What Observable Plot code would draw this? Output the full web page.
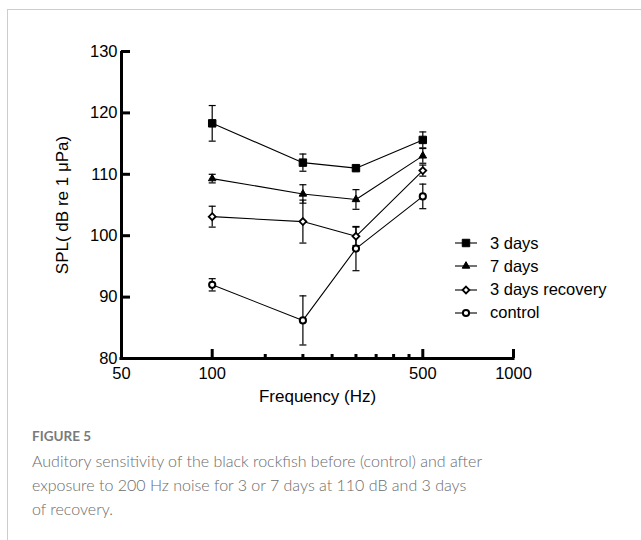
<!DOCTYPE html>
<html>
<head>
<meta charset="utf-8">
<script src="https://cdn.jsdelivr.net/npm/d3@7"></script>
<script src="https://cdn.jsdelivr.net/npm/@observablehq/plot@0.6"></script>
<style>
  html, body { margin: 0; padding: 0; background: #fff; }
  body { width: 641px; height: 540px; overflow: hidden; position: relative; font-family: "Liberation Sans", Arial, sans-serif; }
  #frame { position: absolute; left: 7px; top: 9px; width: 640px; height: 540px; border-left: 1px solid #cdcdcd; border-top: 1px solid #cdcdcd; }
  #chart { position: absolute; left: 0; top: 0; }
  #legend { position: absolute; left: 0; top: 0; }
  .lrow { position: absolute; left: 452px; height: 20px; display: flex; align-items: center; font-size: 16.5px; color: #000; white-space: nowrap; }
  .lrow svg { margin-right: 8px; }
  #figlabel { position: absolute; left: 32px; top: 428px; font-family: Lato, "Open Sans", sans-serif; font-weight: 700; font-size: 13.5px; color: #7a7a7a; }
  #caption { position: absolute; left: 32px; top: 449px; font-family: Lato, "Open Sans", sans-serif; font-weight: 300; font-size: 16px; line-height: 24px; color: #6b6b6b; }
</style>
</head>
<body>
<div id="frame"></div>
<div id="chart"></div>
<div id="legend"></div>
<div id="figlabel">FIGURE 5</div>
<div id="caption">Auditory sensitivity of the black rockfish before (control) and after<br>exposure to 200 Hz noise for 3 or 7 days at 110 dB and 3 days<br>of recovery.</div>
<script>
// ---- data ----
const frequencies = [100, 200, 300, 500];
const seriesNames = ["3 days", "7 days", "3 days recovery", "control"];
const days3Mean = [118.3, 111.9, 111.0, 115.6];
const days3Err  = [2.9, 1.4, 0.4, 1.3];
const days7Mean = [109.3, 106.8, 105.9, 113.0];
const days7Err  = [0.7, 1.5, 1.6, 1.2];
const recoveryMean = [103.1, 102.3, 99.9, 110.6];
const recoveryErr  = [1.7, 3.5, 1.5, 0.9];
const controlMean = [92.0, 86.2, 97.9, 106.4];
const controlErr  = [1.0, 4.0, 3.6, 2.0];
const xTickLabels = [50, 100, 500, 1000];
const xMajorTicks = [100, 500, 1000];
const xMinorTicks = [150, 200, 250, 300, 350, 400, 450];
const yTicks = [80, 90, 100, 110, 120, 130];

// ---- styles ----
const symbols = ["square", "triangle", "diamond2", "circle"];
const fills = ["black", "black", "white", "white"];
const radii = [4.2, 2.8, 3.1, 3.1];
const strokeWidths = [1, 1, 1.8, 2];

const means = [days3Mean, days7Mean, recoveryMean, controlMean];
const errs = [days3Err, days7Err, recoveryErr, controlErr];
const rows = seriesNames.flatMap((s, si) => frequencies.map((f, i) => ({series: s, si, f, v: means[si][i], e: errs[si][i]})));

const cap = { draw(ctx) { ctx.moveTo(-3.5, 0); ctx.lineTo(3.5, 0); } };

const font = "'Liberation Sans', Arial, sans-serif";

const chart = Plot.plot({
  width: 641,
  height: 415,
  marginLeft: 121,
  marginRight: 128,
  marginTop: 51,
  marginBottom: 57,
  style: { fontFamily: font, fontSize: "16px", color: "#000", background: "transparent", overflow: "visible" },
  x: { type: "log", domain: [50, 1000] },
  y: { domain: [80, 130] },
  marks: [
    Plot.axisY(yTicks, { tickSize: 0, tickPadding: 4, fontSize: 16.5, label: null }),
    Plot.axisY(yTicks, { tickSize: 9, dx: 9, fill: "none", strokeWidth: 3 }),
    Plot.text(xTickLabels, { x: d => d, frameAnchor: "bottom", lineAnchor: "middle", dy: 15, fontSize: 16.5, text: d => String(d) }),
    Plot.axisX(xMajorTicks, { tickSize: 9, dy: -9, fill: "none", strokeWidth: 3 }),
    Plot.axisX(xMinorTicks, { tickSize: 4, dy: -4, fill: "none", strokeWidth: 3 }),
    Plot.ruleX([50], { strokeWidth: 3 }),
    Plot.ruleY([80], { strokeWidth: 3, strokeLinecap: "square" }),
    Plot.text(["SPL( dB re 1 μPa)"], { frameAnchor: "left", textAnchor: "middle", lineAnchor: "middle", rotate: -90, dx: -59, fontSize: 17 }),
    Plot.text(["Frequency (Hz)"], { frameAnchor: "bottom", textAnchor: "middle", lineAnchor: "middle", dy: 38, fontSize: 17 }),
    Plot.line(rows, { x: "f", y: "v", z: "series", stroke: "black", strokeWidth: 1.1 }),
    Plot.ruleX(rows, { x: "f", y1: d => d.v - d.e, y2: d => d.v + d.e, stroke: "black", strokeWidth: 1.2 }),
    Plot.dot(rows, { x: "f", y: d => d.v - d.e, symbol: cap, stroke: "black", strokeWidth: 1.2 }),
    Plot.dot(rows, { x: "f", y: d => d.v + d.e, symbol: cap, stroke: "black", strokeWidth: 1.2 }),
    ...seriesNames.map((s, si) => Plot.dot(rows.filter(d => d.si === si), {
      x: "f", y: "v", symbol: symbols[si], r: radii[si], fill: fills[si], stroke: "black", strokeWidth: strokeWidths[si]
    }))
  ]
});
document.getElementById("chart").appendChild(chart);

// ---- legend ----
const symbolTypes = { square: d3.symbolSquare, triangle: d3.symbolTriangle, diamond2: d3.symbolDiamond2, circle: d3.symbolCircle };
const legend = d3.select("#legend");
seriesNames.forEach((name, si) => {
  const row = legend.append("div").attr("class", "lrow").style("top", (233 + si * 23.3) + "px");
  const svg = row.append("svg").attr("width", 30).attr("height", 20);
  svg.append("line").attr("x1", 3).attr("x2", 25).attr("y1", 10).attr("y2", 10).attr("stroke", "black").attr("stroke-width", 1.1);
  svg.append("path")
    .attr("d", d3.symbol(symbolTypes[symbols[si]], Math.PI * radii[si] * radii[si])())
    .attr("transform", "translate(14,10)")
    .attr("fill", fills[si]).attr("stroke", "black").attr("stroke-width", strokeWidths[si]);
  row.append("span").text(name);
});
</script>
</body>
</html>
